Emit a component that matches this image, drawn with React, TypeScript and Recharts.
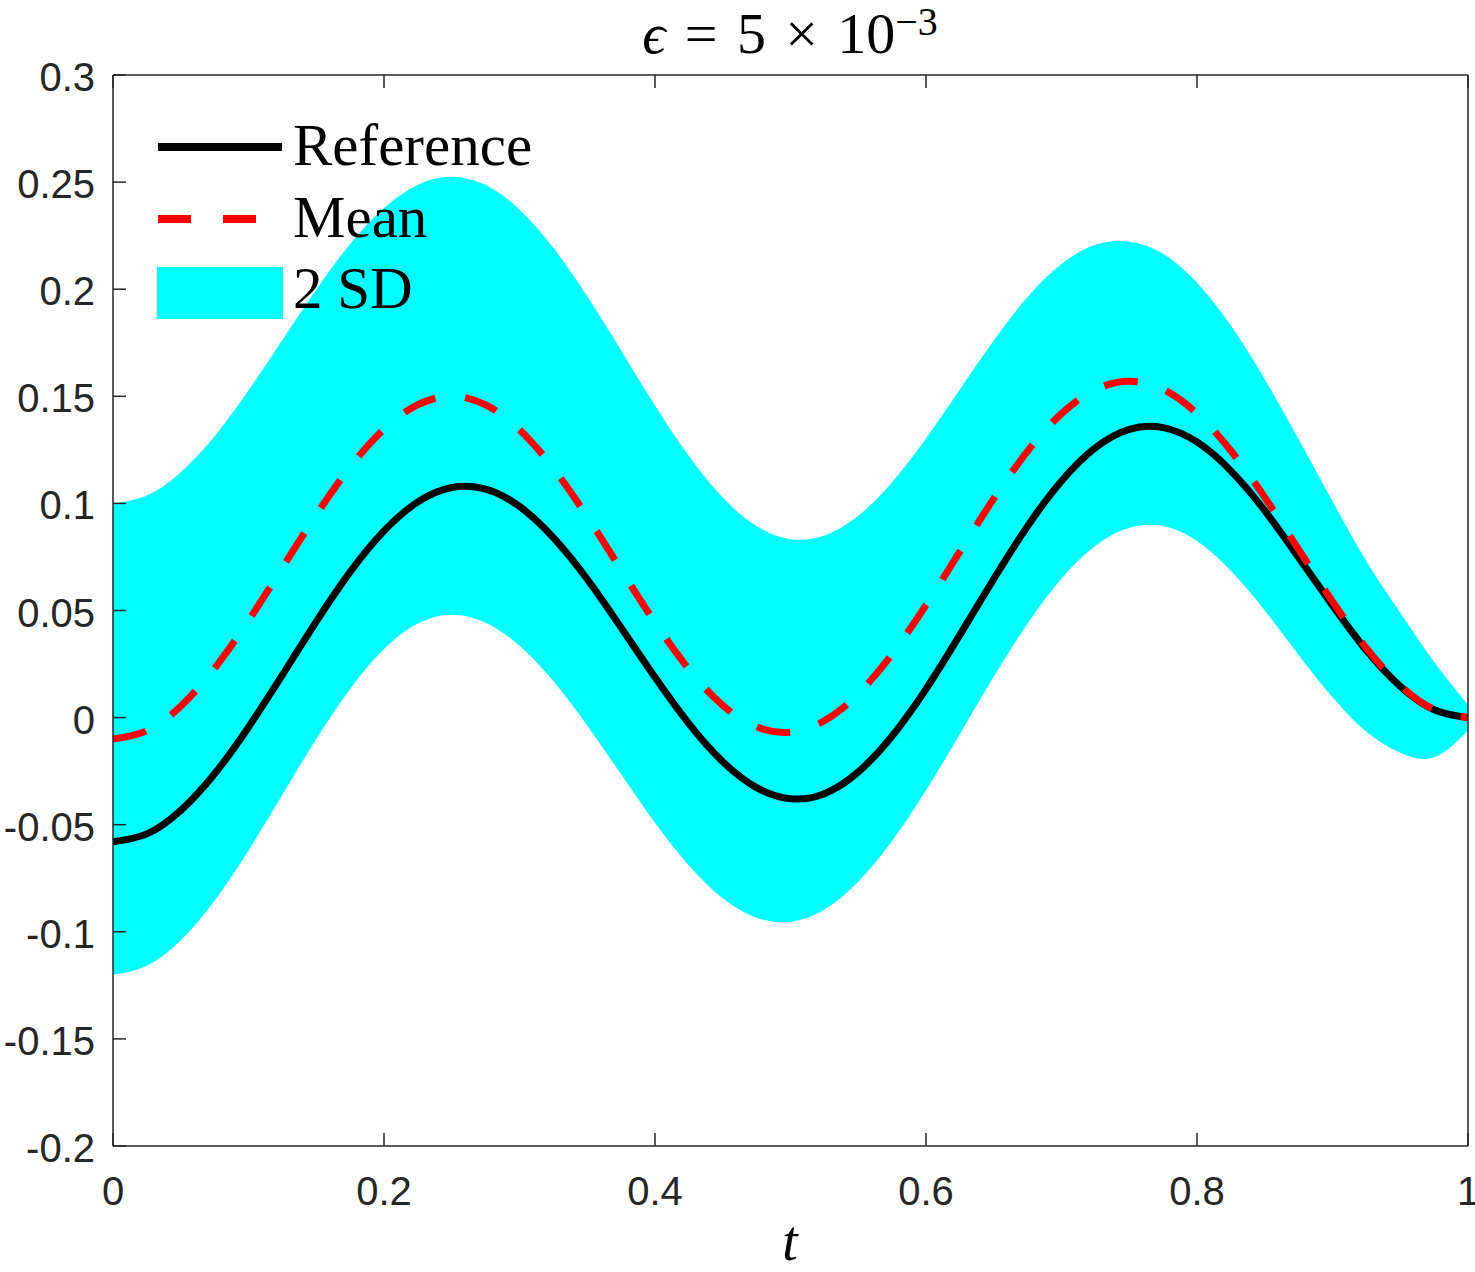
import { ComposedChart, Area, Line, XAxis, YAxis } from "recharts";

// sample points along t
const T = [
  0, 0.025, 0.05, 0.075, 0.1, 0.125, 0.15, 0.175, 0.2, 0.225, 0.25, 0.275, 0.3, 0.325,
  0.35, 0.375, 0.4, 0.425, 0.45, 0.475, 0.5, 0.525, 0.55, 0.575, 0.6, 0.625, 0.65, 0.675,
  0.7, 0.725, 0.75, 0.775, 0.8, 0.825, 0.85, 0.875, 0.9, 0.925, 0.95, 0.975, 1,
];

// black solid curve
const REFERENCE = [
  -0.058, -0.0543, -0.0433, -0.0262, -0.0045, 0.0199, 0.0448, 0.068, 0.0872, 0.1007, 0.1074,
  0.1067, 0.0986, 0.084, 0.0646, 0.042, 0.0188, -0.0028, -0.0206, -0.0327, -0.0379, -0.0355,
  -0.0254, -0.0086, 0.0133, 0.0386, 0.0647, 0.0894, 0.1105, 0.126, 0.1346, 0.1354, 0.1287,
  0.1152, 0.0966, 0.0747, 0.0524, 0.0314, 0.0146, 0.0037, 0,
];

// red dashed curve
const MEAN = [
  -0.01, -0.0061, 0.0053, 0.023, 0.0453, 0.07, 0.0947, 0.117, 0.1347, 0.1461, 0.15, 0.146,
  0.1344, 0.1164, 0.0938, 0.069, 0.0444, 0.0226, 0.0057, -0.0044, -0.0068, -0.0015, 0.0111,
  0.0297, 0.0525, 0.0775, 0.1022, 0.1244, 0.1419, 0.1531, 0.157, 0.1532, 0.142, 0.1246,
  0.1028, 0.0785, 0.0542, 0.0324, 0.015, 0.0038, 0,
];

// cyan band edges
const UPPER = [
  0.1, 0.1037, 0.1146, 0.1314, 0.1527, 0.1763, 0.1998, 0.2211, 0.2379, 0.2488, 0.2525, 0.2486,
  0.2372, 0.2193, 0.1967, 0.1714, 0.1457, 0.1221, 0.1027, 0.0894, 0.0833, 0.085, 0.0942,
  0.1099, 0.1303, 0.1532, 0.176, 0.1964, 0.2118, 0.2207, 0.2222, 0.2165, 0.203, 0.183, 0.158,
  0.13, 0.101, 0.073, 0.049, 0.026, 0.006,
];
const LOWER = [
  -0.12, -0.1159, -0.104, -0.0854, -0.062, -0.036, -0.01, 0.0134, 0.032, 0.0439, 0.048, 0.0443,
  0.0336, 0.0171, -0.0037, -0.0265, -0.0491, -0.069, -0.0843, -0.0934, -0.0953, -0.0896,
  -0.0766, -0.0575, -0.0339, -0.0076, 0.0191, 0.0439, 0.0649, 0.0802, 0.0886, 0.0894, 0.0824,
  0.0685, 0.05, 0.0292, 0.0095, -0.0066, -0.0164, -0.0185, -0.006,
];

const X_TICKS = [0, 0.2, 0.4, 0.6, 0.8, 1];
const Y_TICKS = [-0.2, -0.15, -0.1, -0.05, 0, 0.05, 0.1, 0.15, 0.2, 0.25, 0.3];

const AX = "#262626";
const CYAN = "#00FFFF";
const RED = "#FF0000";
const TICK_LEN = 13;
const SANS = "'Liberation Sans', Arial, sans-serif";
const SERIF = "'Liberation Serif', 'Times New Roman', serif";

const rows = T.map((t, i) => ({
  t,
  ref: REFERENCE[i],
  mean: MEAN[i],
  band: [LOWER[i], UPPER[i]],
}));

const axisLine = { stroke: AX, strokeWidth: 1.5 };

function LeftTick(p: any) {
  return (
    <g>
      <line x1={p.x + 18} x2={p.x + 18 + TICK_LEN} y1={p.y} y2={p.y} stroke={AX} strokeWidth={1.5} />
      <text x={p.x} y={p.y + 2} textAnchor="end" dominantBaseline="central" fontFamily={SANS} fontSize={40} fill={AX}>
        {String(p.payload.value)}
      </text>
    </g>
  );
}

function RightTick(p: any) {
  return <line x1={p.x} x2={p.x - TICK_LEN} y1={p.y} y2={p.y} stroke={AX} strokeWidth={1.5} />;
}

function BottomTick(p: any) {
  return (
    <g>
      <line x1={p.x} x2={p.x} y1={p.y - 30} y2={p.y - 30 - TICK_LEN} stroke={AX} strokeWidth={1.5} />
      <text x={p.x} y={p.y} dy="0.72em" textAnchor="middle" fontFamily={SANS} fontSize={40} fill={AX}>
        {String(p.payload.value)}
      </text>
    </g>
  );
}

function TopTick(p: any) {
  return <line x1={p.x} x2={p.x} y1={p.y} y2={p.y + TICK_LEN} stroke={AX} strokeWidth={1.5} />;
}

export default function App() {
  return (
    <div style={{ position: "absolute", left: 0, top: 0, width: 1475, height: 1272, background: "#fff" }}>
      <ComposedChart width={1475} height={1272} data={rows} margin={{ top: 0, right: 0, bottom: 0, left: 0 }}>
        <XAxis
          xAxisId="b" dataKey="t" type="number" domain={[0, 1]} ticks={X_TICKS} interval={0}
          height={126} tickSize={0} tickMargin={30} axisLine={axisLine} tickLine={false} tick={BottomTick}
        />
        <XAxis
          xAxisId="top" orientation="top" dataKey="t" type="number" domain={[0, 1]} ticks={X_TICKS} interval={0}
          height={75} tickSize={0} tickMargin={0} axisLine={axisLine} tickLine={false} tick={TopTick}
        />
        <YAxis
          yAxisId="l" type="number" domain={[-0.2, 0.3]} ticks={Y_TICKS} interval={0}
          width={113} tickSize={0} tickMargin={18} axisLine={axisLine} tickLine={false} tick={LeftTick}
        />
        <YAxis
          yAxisId="r" orientation="right" type="number" domain={[-0.2, 0.3]} ticks={Y_TICKS} interval={0}
          width={7} tickSize={0} tickMargin={0} axisLine={axisLine} tickLine={false} tick={RightTick}
        />
        <Area
          xAxisId="b" yAxisId="l" dataKey="band" type="natural" fill={CYAN} fillOpacity={1}
          stroke="none" isAnimationActive={false} activeDot={false} dot={false}
        />
        <Line
          xAxisId="b" yAxisId="l" dataKey="ref" type="natural" stroke="#000" strokeWidth={7}
          dot={false} activeDot={false} isAnimationActive={false}
        />
        <Line
          xAxisId="b" yAxisId="l" dataKey="mean" type="natural" stroke={RED} strokeWidth={7}
          strokeDasharray="34 30" dot={false} activeDot={false} isAnimationActive={false}
        />
      </ComposedChart>

      {/* title, legend and x label */}
      <svg width={1475} height={1272} style={{ position: "absolute", left: 0, top: 0, pointerEvents: "none" }}>
        <text x={790} y={53} textAnchor="middle" fontFamily={SERIF} fontSize={58} fill="#000">
          <tspan fontStyle="italic">ϵ</tspan>
          {"\u2004=\u20045\u2004×\u200410"}
          <tspan dy={-18} fontSize={40}>−3</tspan>
        </text>

        <line x1={158} x2={282} y1={147} y2={147} stroke="#000" strokeWidth={8} />
        <line x1={158} x2={282} y1={219} y2={219} stroke={RED} strokeWidth={8} strokeDasharray="33 32" />
        <rect x={157} y={267} width={126} height={52} fill={CYAN} />
        <text x={293} y={165} fontFamily={SERIF} fontSize={59} fill="#000">Reference</text>
        <text x={293} y={237} fontFamily={SERIF} fontSize={59} fill="#000">Mean</text>
        <text x={293} y={308} fontFamily={SERIF} fontSize={59} fill="#000">2 SD</text>

        <text x={790} y={1260} textAnchor="middle" fontFamily={SERIF} fontStyle="italic" fontSize={56} fill="#000">t</text>
      </svg>
    </div>
  );
}
